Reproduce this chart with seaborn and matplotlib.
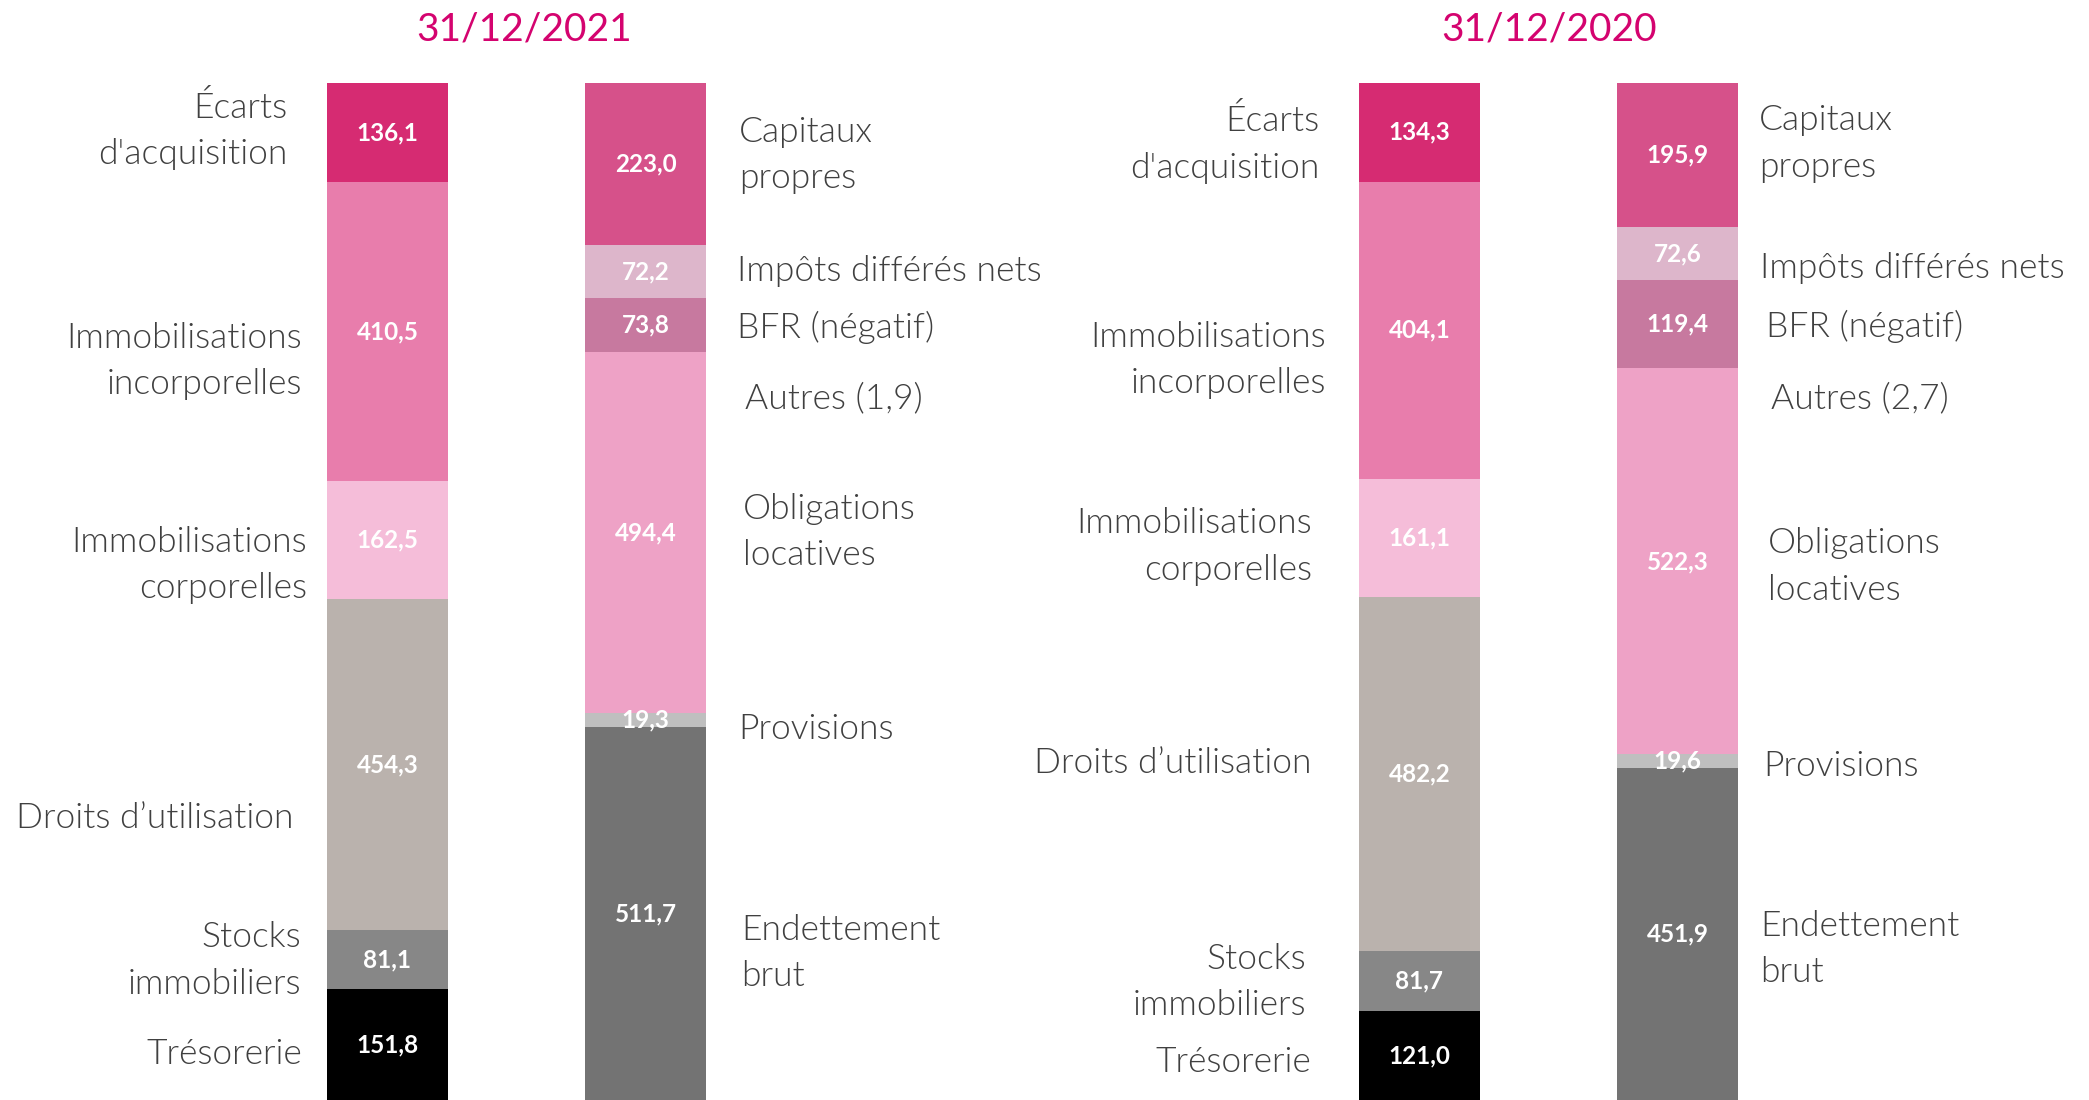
import matplotlib
matplotlib.use("Agg")
import matplotlib.pyplot as plt
import matplotlib.transforms as mtransforms
import seaborn as sns
import numpy as np
import pandas as pd

# ---------------- data ----------------
dates = ["31/12/2021", "31/12/2020"]

actif_labels = ["Écarts\nd'acquisition", "Immobilisations\nincorporelles",
                "Immobilisations\ncorporelles", "Droits d’utilisation",
                "Stocks\nimmobiliers", "Trésorerie"]
actif_2021 = [136.1, 410.5, 162.5, 454.3, 81.1, 151.8]
actif_2020 = [134.3, 404.1, 161.1, 482.2, 81.7, 121.0]

passif_labels_2021 = ["Capitaux\npropres", "Impôts différés nets", "BFR (négatif)",
                      "Autres (1,9)", "Obligations\nlocatives", "Provisions",
                      "Endettement\nbrut"]
passif_labels_2020 = ["Capitaux\npropres", "Impôts différés nets", "BFR (négatif)",
                      "Autres (2,7)", "Obligations\nlocatives", "Provisions",
                      "Endettement\nbrut"]
passif_2021 = [223.0, 72.2, 73.8, 1.9, 494.4, 19.3, 511.7]
passif_2020 = [195.9, 72.6, 119.4, 2.7, 522.3, 19.6, 451.9]
passif_show_value = [True, True, True, False, True, True, True]

# ---------------- styles ----------------
actif_colors = ["#D62B72", "#E87DAC", "#F5BDD9", "#BAB2AD", "#878787", "#000000"]
passif_colors = ["#D6518A", "#DDB6CB", "#C7799F", "#EEA2C6", "#EEA2C6", "#BFBFBF", "#737373"]
title_color = "#D4036F"
label_color = "#404040"

# label layout (value-axis position of each side label, and gap in px to bar)
actif_label_y = {"31/12/2021": [61.6, 378.1, 657.9, 1005.5, 1201.1, 1329.2],
                 "31/12/2020": [79.3, 373.1, 627.0, 922.5, 1220.0, 1328.9]}
passif_label_y = {"31/12/2021": [95.5, 253.7, 332.4, 429.3, 612.2, 882.9, 1191.1],
                  "31/12/2020": [78.4, 247.9, 327.7, 425.7, 654.2, 926.2, 1174.6]}
actif_gap = {"31/12/2021": [40, 25, 20, 33, 26, 25],
             "31/12/2020": [40, 33, 47, 47, 53, 48]}
passif_gap = {"31/12/2021": [33, 31, 31, 39, 37, 32, 35],
              "31/12/2020": [21, 22, 28, 33, 30, 25, 22]}
title_x_px = {"31/12/2021": 524, "31/12/2020": 1549}

sns.set_theme(style="white")
plt.rcParams["font.family"] = ["Lato", "DejaVu Sans"]

W, H = 2089, 1100
fig = plt.figure(figsize=(W / 100, H / 100), dpi=100)
fig.patch.set_facecolor("white")

unit = 258.0          # px per x unit
bar_w = 121.0 / unit
top_px = 83.0
half = W / 2.0
centers_px = [387.5, 1419.5]

data = {
    "31/12/2021": (actif_2021, passif_2021, passif_labels_2021),
    "31/12/2020": (actif_2020, passif_2020, passif_labels_2020),
}

fs_label = 25.5
fs_val = 17.5
lab_weight = 300
lab_ls = 1.55
lab_dy_pt = -2.0   # small downward nudge of side labels (points)


def draw_stack(ax, pos, values, colors):
    cum = np.cumsum(values)
    # draw from full stack to smallest so the upper segments overlay
    for k in range(len(values) - 1, -1, -1):
        df = pd.DataFrame({"x": [pos], "y": [cum[k]]})
        sns.barplot(data=df, x="x", y="y", native_scale=True, orient="x",
                    width=bar_w, color=colors[k], saturation=1, linewidth=0,
                    ax=ax, errorbar=None)
    return cum


for i, d in enumerate(dates):
    actif, passif, plabels = data[d]
    x0 = i * half
    ax = fig.add_axes([x0 / W, 0, half / W, (H - top_px) / H])
    c = centers_px[i]
    ax.set_xlim(-(c - x0) / unit, (x0 + half - c) / unit)

    cum_a = draw_stack(ax, 0, actif, actif_colors)
    cum_p = draw_stack(ax, 1, passif, passif_colors)
    total = max(cum_a[-1], cum_p[-1])
    ax.set_ylim(total, 0)
    ax.axis("off")
    lab_tr = mtransforms.offset_copy(ax.transData, fig=fig, x=0, y=lab_dy_pt, units="points")

    # value labels
    for k, v in enumerate(actif):
        ymid = cum_a[k] - v / 2
        ax.text(0, ymid, f"{v:.1f}".replace(".", ","), ha="center", va="center",
                color="white", fontsize=fs_val, fontweight="bold")
    for k, v in enumerate(passif):
        if not passif_show_value[k]:
            continue
        ymid = cum_p[k] - v / 2
        ax.text(1, ymid, f"{v:.1f}".replace(".", ","), ha="center", va="center",
                color="white", fontsize=fs_val, fontweight="bold")

    # side labels
    for k, lab in enumerate(actif_labels):
        ax.text(-bar_w / 2 - actif_gap[d][k] / unit, actif_label_y[d][k], lab,
                ha="right", va="center", multialignment="right",
                color=label_color, fontsize=fs_label, fontweight=lab_weight,
                linespacing=lab_ls, clip_on=False, transform=lab_tr)
    for k, lab in enumerate(plabels):
        ax.text(1 + bar_w / 2 + passif_gap[d][k] / unit, passif_label_y[d][k], lab,
                ha="left", va="center", multialignment="left",
                color=label_color, fontsize=fs_label, fontweight=lab_weight,
                linespacing=lab_ls, clip_on=False, transform=lab_tr)

    # date title
    fig.text(title_x_px[d] / W, 1 - 30 / H, d, ha="center", va="center",
             color=title_color, fontsize=28)

fig.savefig("out.png", dpi=100, facecolor="white")
